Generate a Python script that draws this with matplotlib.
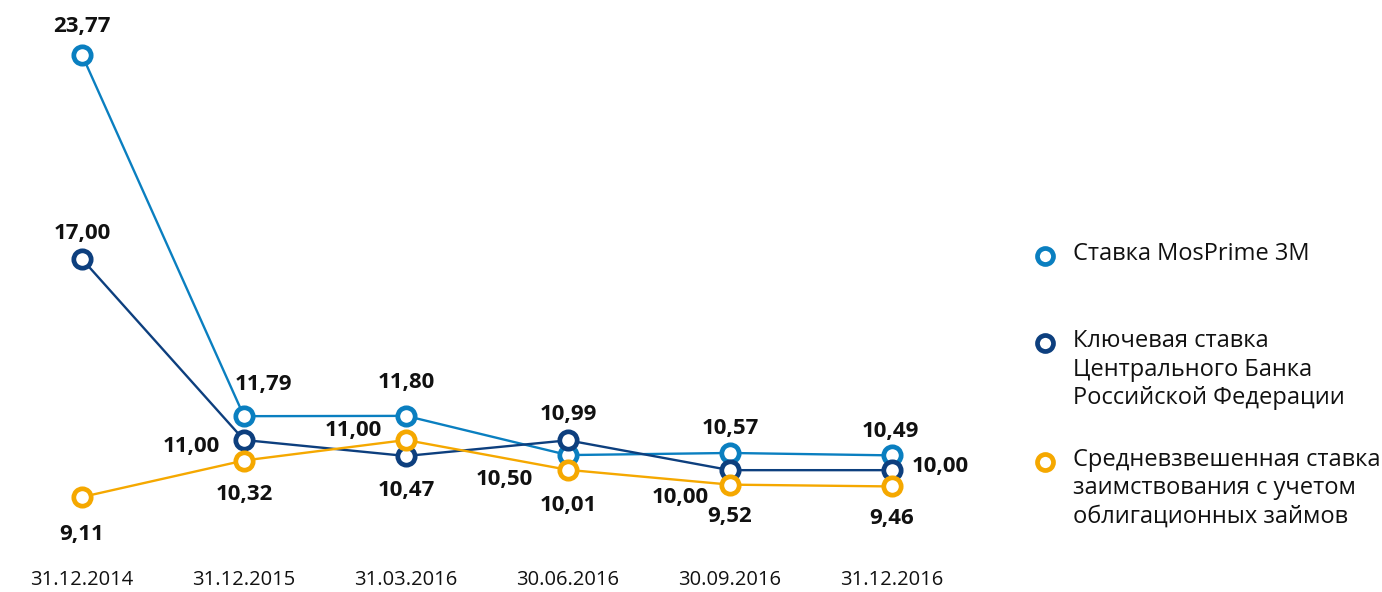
import matplotlib.pyplot as plt
import matplotlib.transforms as mtransforms

plt.rcParams['font.family'] = ['Open Sans', 'DejaVu Sans']

dates = ["31.12.2014", "31.12.2015", "31.03.2016", "30.06.2016", "30.09.2016", "31.12.2016"]
mosprime = [23.77, 11.79, 11.80, 10.50, 10.57, 10.49]
key_rate = [17.00, 11.00, 10.47, 10.99, 10.00, 10.00]
borrowing = [9.11, 10.32, 11.00, 10.01, 9.52, 9.46]

names = ["Ставка MosPrime 3M",
         "Ключевая ставка\nЦентрального Банка\nРоссийской Федерации",
         "Средневзвешенная ставка\nзаимствования с учетом\nоблигационных займов"]
colors = ["#0a7fc0", "#0d3f7e", "#f5a800"]

# label offsets in pixels (dx, dy up) for each point
offsets = [
    [(0, 28), (19, 32), (0, 33), (-64, -24), (0, 24), (-2, 24)],
    [(0, 26), (-53, -6), (0, -35), (0, 26), (-50, -27), (48, 4)],
    [(0, -37), (0, -34), (-53, 10), (0, -36), (0, -32), (0, -32)],
]

fig = plt.figure(figsize=(13.82, 5.92), dpi=100)
ax = fig.add_axes([1 / 1382, 0, 972 / 1382, 1])
ax.set_xlim(-0.5, 5.5)
ax.set_ylim(5.96, 25.59)
ax.axis("off")

x = list(range(len(dates)))
series = [mosprime, key_rate, borrowing]
for vals, col, offs in zip(series, colors, offsets):
    ax.plot(x, vals, color=col, lw=1.7, marker="o", ms=12.5, mfc="white",
            mec=col, mew=3.4, zorder=3)
    for xi, v, (dx, dy) in zip(x, vals, offs):
        ax.annotate(f"{v:.2f}".replace(".", ","), (xi, v),
                    xytext=(dx * 0.72, dy * 0.72), textcoords="offset points",
                    ha="center", va="center", fontsize=16, fontweight="bold",
                    color="#111111")

trans = mtransforms.blended_transform_factory(ax.transData, fig.transFigure)
for xi, d in zip(x, dates):
    ax.text(xi, 1 - 580 / 592, d, transform=trans, ha="center", va="center",
            fontsize=14.5, color="#111111")

# legend
leg_y = [256, 343, 462]
for ly, col, name in zip(leg_y, colors, names):
    ax.plot([1045 / 1382], [1 - ly / 592], transform=fig.transFigure,
            marker="o", ms=11.5, mfc="white", mec=col, mew=3.4, clip_on=False)
    fig.text(1073 / 1382, 1 - (ly - 14) / 592, name, ha="left", va="top",
             fontsize=17, color="#111111", linespacing=1.25)

fig.savefig("out.png", dpi=100)
